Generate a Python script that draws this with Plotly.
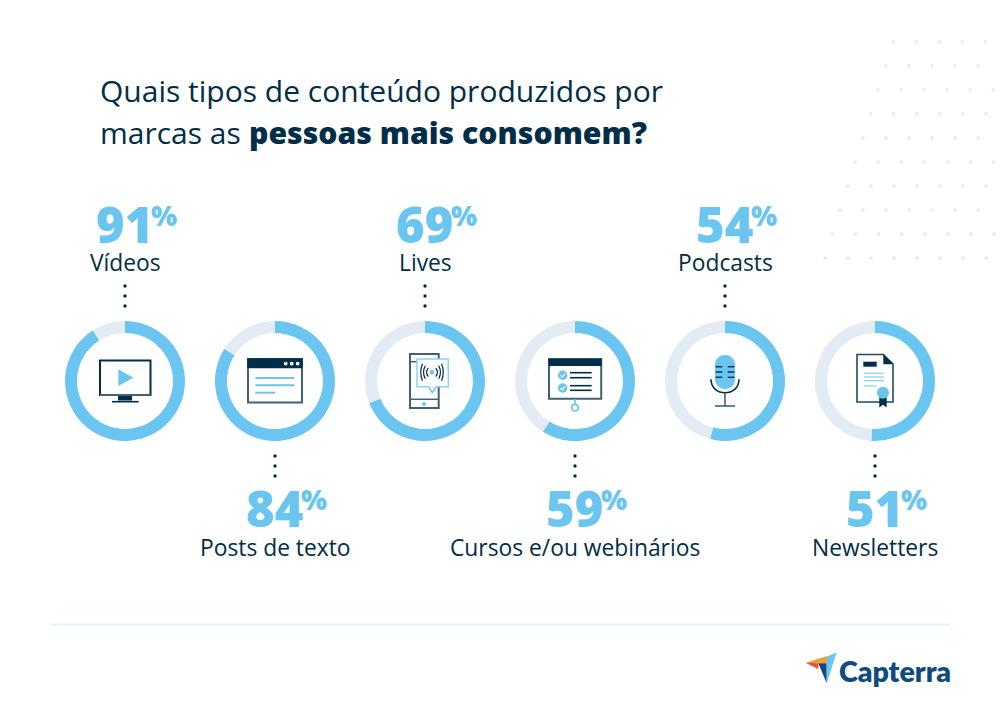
import plotly.graph_objects as go

# ---- data ----
categories = ["Vídeos", "Posts de texto", "Lives", "Cursos e/ou webinários", "Podcasts", "Newsletters"]
values = [91, 84, 69, 59, 54, 51]
label_above = [True, False, True, False, True, False]
centres_px = [125, 275, 425, 575, 725, 875]
title_line1 = "Quais tipos de conteúdo produzidos por"
title_line2a = "marcas as"
title_line2b = "pessoas mais consomem?"
brand = "Capterra"

BLUE = "#6AC5F0"
PALE = "#E3EBF3"
NAVY = "#002E48"
SLATE = "#3F6279"
FONT = "Open Sans"
CY, R = 381, 60
W, H = 1000, 720

fig = go.Figure()

# decorative dotted background
dot_rows = [(893.3, 5), (885.7, 5), (878, 6), (870.5, 6), (863, 6), (855.3, 7), (847.7, 7), (840, 7), (832.5, 8), (825, 8)]
bx, by = [], []
for r, (x0, n) in enumerate(dot_rows):
    for i in range(n):
        bx.append(x0 + i * 23.05)
        by.append(41.7 + r * 24.05)
fig.add_trace(go.Scatter(x=bx, y=by, mode="markers", hoverinfo="skip", showlegend=False,
                         marker=dict(size=3.6, color="#E3ECEF")))

# rings
for cat, v, cx in zip(categories, values, centres_px):
    fig.add_trace(go.Pie(
        labels=[cat, "Outros"], values=[v, 100 - v], hole=0.8, sort=False, direction="clockwise",
        rotation=0, textinfo="none", hoverinfo="skip", showlegend=False,
        marker=dict(colors=[BLUE, PALE], line=dict(width=0)),
        domain=dict(x=[(cx - R) / W, (cx + R) / W], y=[1 - (CY + R) / H, 1 - (CY - R) / H]),
    ))

# dotted leaders
lx, ly = [], []
for cx, above in zip(centres_px, label_above):
    for yy in ((286, 296, 306) if above else (456, 466, 476)):
        lx.append(cx); ly.append(yy)
fig.add_trace(go.Scatter(x=lx, y=ly, mode="markers", hoverinfo="skip", showlegend=False,
                         marker=dict(size=3.4, color=NAVY)))

shapes = []
def line(x0, y0, x1, y1, c=NAVY, w=2):
    shapes.append(dict(type="line", x0=x0, y0=y0, x1=x1, y1=y1, line=dict(color=c, width=w)))
def rect(x0, y0, x1, y1, fill="rgba(0,0,0,0)", c=NAVY, w=2):
    shapes.append(dict(type="rect", x0=x0, y0=y0, x1=x1, y1=y1, fillcolor=fill, line=dict(color=c, width=w)))
def circ(cx, cy, r, fill=BLUE, c=None, w=0):
    shapes.append(dict(type="circle", x0=cx - r, y0=cy - r, x1=cx + r, y1=cy + r, fillcolor=fill,
                       line=dict(color=c or fill, width=w)))
def path(d, fill="rgba(0,0,0,0)", c=NAVY, w=0):
    shapes.append(dict(type="path", path=d, fillcolor=fill, line=dict(color=c, width=w)))

# TV
rect(100, 360.5, 150.5, 395, c=NAVY)
line(100, 395, 150.5, 395, SLATE, 2)
path("M118.3,369.3 L118.3,386 L133.3,377.7 Z", fill=BLUE)
rect(118, 396, 132, 400.5, fill=NAVY, w=0)
line(112, 401.7, 138.7, 401.7, NAVY, 1.6)

# Text window
rect(248, 359, 302, 402.5, c=SLATE)
rect(247.3, 358.3, 302.5, 368.3, fill=NAVY, w=0)
for px in (285.7, 291.7, 297.7):
    circ(px, 363.6, 1.9, fill="white")
line(255.3, 378, 294.3, 378, BLUE, 2)
line(255.3, 385.3, 294.3, 385.3, BLUE, 2)
line(255.3, 392.7, 275, 392.7, BLUE, 2)

# Phone with live bubble
rect(410, 354, 438.7, 408, c=SLATE)
line(410, 361.7, 417, 361.7, SLATE, 1.5)
line(410, 399.3, 438.7, 399.3, SLATE, 1.5)
circ(424, 404, 2)
path("M428.3,386.7 L432.3,392.7 L436.3,386.7 Z", fill="white", c=BLUE, w=1.5)
rect(417, 358.9, 448.3, 386.7, fill="white", c="#8AD2F3", w=1.5)
line(429.3, 386.7, 435.3, 386.7, "white", 1.6)
circ(432, 372.3, 2.4)
for off, h in ((5.5, 4.2), (8.5, 6.5), (11.3, 8.5)):
    path(f"M{432 - off + 1.8},{372.3 - h} Q{432 - off - 1.8},372.3 {432 - off + 1.8},{372.3 + h}", c=NAVY, w=1.2)
    path(f"M{432 + off - 1.8},{372.3 - h} Q{432 + off + 1.8},372.3 {432 + off - 1.8},{372.3 + h}", c=NAVY, w=1.2)

# Course board
rect(549, 359, 601.2, 398.8, c=SLATE)
rect(548.5, 358.7, 601.6, 366, fill=NAVY, w=0)
for yy, (a, b) in zip((375.3, 388), ((372.7, 377.7), (385.7, 390.3))):
    circ(562.7, yy, 4.7)
    path(f"M560.5,{yy} L562.2,{yy + 1.7} L565.2,{yy - 1.7}", c="white", w=1.1)
    line(570, a, 591.7, a, NAVY, 1.6)
    line(570, b, 591.7, b, NAVY, 1.6)
line(575, 399, 575, 404.3, BLUE, 1.6)
circ(575, 407.7, 3.3, fill="white", c=BLUE, w=1.6)

# Microphone
path("M715,365 C715,351.7 735,351.7 735,365 L735,379 C735,392.3 715,392.3 715,379 Z", fill=BLUE)
for yy in (366.7, 372, 377.3):
    line(715.7, yy, 722.3, yy, NAVY, 1.4)
    line(727.7, yy, 734.3, yy, NAVY, 1.4)
path("M711,379.3 C711,397.3 739,397.3 739,379.3", c=NAVY, w=1.6)
line(725, 393, 725, 406, SLATE, 1.6)
line(715, 406, 735, 406, SLATE, 1.6)

# Newsletter
path("M857,354.5 L883.3,354.5 L893,364 L893,402 L857,402 Z", fill="white", c="#1F4A63", w=1.6)
path("M883.3,354.3 L893.3,364.2 L883.3,364.2 Z", fill=NAVY)
rect(863.3, 361.7, 876.7, 366.7, fill=NAVY, w=0)
for yy, x1 in ((373.3, 884), (377, 884), (380.7, 884), (386, 876.7)):
    line(864, yy, x1, yy, "#8AD2F3", 1.3)
path("M879.3,396 L886.7,396 L886.7,407.5 L883,404.8 L879.3,407.5 Z", fill=NAVY)
circ(883, 392.7, 6)

# Footer rule
line(50, 624.5, 950, 624.5, "#E0F4FB", 2)

# Logo
def lp(x, y):
    return f"{790 + x / 3:.1f},{610 + y / 3:.1f}"
path(f"M{lp(47, 158)} L{lp(112, 138)} L{lp(110, 160)} L{lp(85, 160)} Z", fill="#F89C2D")
path(f"M{lp(47, 158)} L{lp(85, 160)} L{lp(85, 178)} Z", fill="#EF4B4B")
path(f"M{lp(85, 160)} L{lp(110, 160)} L{lp(110, 220)} Z", fill="#0F4C7D")
path(f"M{lp(140, 127)} L{lp(110, 140)} L{lp(110, 220)} Z", fill="#6AC5F0")

annotations = []
def text(x, y, s, size, color=NAVY, anchor="left", family=FONT, weight=None):
    f = dict(family=family, size=size, color=color)
    if weight:
        f["weight"] = weight
    annotations.append(dict(x=x, y=y, xref="x", yref="y", text=s, showarrow=False, xanchor=anchor,
                            yanchor="middle", font=f, borderpad=0, borderwidth=0))

text(100, 90, title_line1, 30)
text(100, 132, title_line2a, 30)
text(249, 132, title_line2b, 30.2, weight=800)

for cat, v, cx, above in zip(categories, values, centres_px, label_above):
    num_y, lab_y = (224, 262) if above else (508, 547)
    text(cx + 27.5, num_y, str(v), 49, color=BLUE, anchor="right", weight=800)
    text(cx + 26, num_y - 9, "%", 27.5, color=BLUE, weight=800)
    text(cx, lab_y, cat, 22.8, anchor="center")

text(839, 670.5, brand, 28.5, color="#0F4C7D", family="Lato", weight=800)

fig.update_layout(
    width=W, height=H, margin=dict(l=0, r=0, t=0, b=0), paper_bgcolor="white", plot_bgcolor="white",
    showlegend=False, shapes=shapes, annotations=annotations,
    xaxis=dict(range=[0, W], visible=False, fixedrange=True),
    yaxis=dict(range=[H, 0], visible=False, fixedrange=True),
)
fig.write_html("out.html", config=dict(displayModeBar=False),
               post_script="document.body.style.margin='0';document.documentElement.style.overflow='hidden';")
